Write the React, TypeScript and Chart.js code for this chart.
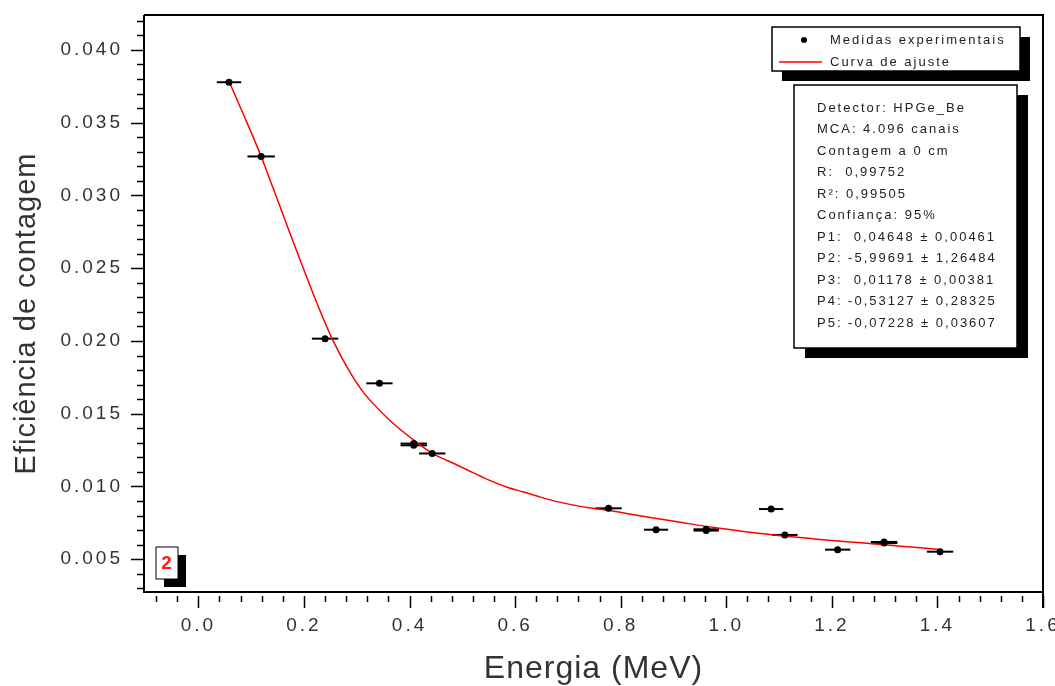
import React, { useEffect, useRef } from 'react';
import { Chart, registerables } from 'chart.js';

Chart.register(...registerables);

// ---- data ----
const energy = [0.058, 0.119, 0.240, 0.343, 0.408, 0.408, 0.443, 0.777, 0.867, 0.962, 0.962, 1.085, 1.111, 1.211, 1.299, 1.299, 1.405];
const efficiency = [0.03778, 0.03268, 0.02016, 0.01709, 0.01295, 0.01283, 0.01227, 0.00850, 0.00703, 0.00706, 0.00697, 0.00845, 0.00667, 0.00566, 0.00619, 0.00611, 0.00552];
const energyErr = [0.023, 0.026, 0.025, 0.025, 0.025, 0.025, 0.025, 0.025, 0.023, 0.024, 0.024, 0.023, 0.024, 0.024, 0.025, 0.025, 0.025];

const fitEnergy = [0.059, 0.085, 0.119, 0.139, 0.155, 0.174, 0.196, 0.218, 0.240, 0.256, 0.288, 0.313, 0.364, 0.414, 0.446, 0.490, 0.521, 0.553, 0.585, 0.616, 0.648, 0.680, 0.711, 0.743, 0.787, 0.850, 0.913, 0.977, 1.040, 1.103, 1.166, 1.229, 1.293, 1.356, 1.406];
const fitEfficiency = [0.03776, 0.03560, 0.03268, 0.03075, 0.02920, 0.02735, 0.02525, 0.02320, 0.02125, 0.01995, 0.01780, 0.01645, 0.01450, 0.01302, 0.01222, 0.01148, 0.01094, 0.01040, 0.00995, 0.00962, 0.00927, 0.00896, 0.00872, 0.00852, 0.00830, 0.00790, 0.00754, 0.00718, 0.00688, 0.00662, 0.00640, 0.00620, 0.00602, 0.00582, 0.00566];

const xMajorTicks = [0.0, 0.2, 0.4, 0.6, 0.8, 1.0, 1.2, 1.4, 1.6];
const yMajorTicks = [0.005, 0.010, 0.015, 0.020, 0.025, 0.030, 0.035, 0.040];

const seriesLabels = ['Medidas experimentais', 'Curva de ajuste'];
const xTitle = 'Energia (MeV)';
const yTitle = 'Eficiência de contagem';
const panelLabel = '2';
const statsLines = [
  'Detector: HPGe_Be',
  'MCA: 4.096 canais',
  'Contagem a 0 cm',
  'R:  0,99752',
  'R²: 0,99505',
  'Confiança: 95%',
  'P1:  0,04648 ± 0,00461',
  'P2: -5,99691 ± 1,26484',
  'P3:  0,01178 ± 0,00381',
  'P4: -0,53127 ± 0,28325',
  'P5: -0,07228 ± 0,03607',
];

const X_MIN = -0.103;
const X_MAX = 1.6;
const Y_MIN = 0.00275;
const Y_MAX = 0.0424;

const TEXT = '#333333';
const BOX_TEXT = '#222222';
const FONT = 'Arial, "Liberation Sans", sans-serif';

function boxWithShadow(ctx: CanvasRenderingContext2D, x: number, y: number, w: number, h: number, dx: number, dy: number, lw: number) {
  ctx.fillStyle = '#000';
  ctx.fillRect(x + dx, y + dy, w, h);
  ctx.fillStyle = '#fff';
  ctx.fillRect(x, y, w, h);
  ctx.strokeStyle = '#000';
  ctx.lineWidth = lw;
  ctx.strokeRect(x, y, w, h);
}

function patchScale(scale: any, labelSpacing: string, titleSpacing: string, titleDx: number, titleDy: number) {
  if (!scale || scale.__patched) return;
  scale.__patched = true;
  const origLabels = scale.drawLabels.bind(scale);
  scale.drawLabels = (area: any) => {
    const c = scale.ctx;
    c.save();
    c.letterSpacing = labelSpacing;
    origLabels(area);
    c.restore();
  };
  const origTitle = scale.drawTitle.bind(scale);
  scale.drawTitle = () => {
    const c = scale.ctx;
    c.save();
    c.letterSpacing = titleSpacing;
    c.translate(titleDx, titleDy);
    origTitle();
    c.restore();
  };
}

const decorPlugin = {
  id: 'decor',
  beforeDraw(chart: any) {
    const ctx = chart.ctx as CanvasRenderingContext2D;
    ctx.save();
    ctx.fillStyle = '#fff';
    ctx.fillRect(0, 0, chart.width, chart.height);
    ctx.restore();
    patchScale(chart.scales.x, '3px', '1px', 0, 0);
    patchScale(chart.scales.y, '3px', '1px', 0, 10);
  },
  beforeDatasetsDraw(chart: any) {
    const ctx = chart.ctx as CanvasRenderingContext2D;
    const { x, y } = chart.scales;
    const a = chart.chartArea;
    ctx.save();
    ctx.beginPath();
    ctx.rect(a.left, a.top, a.right - a.left, a.bottom - a.top);
    ctx.clip();
    ctx.strokeStyle = '#000';
    ctx.lineWidth = 2;
    energy.forEach((e, i) => {
      const py = y.getPixelForValue(efficiency[i]);
      ctx.beginPath();
      ctx.moveTo(x.getPixelForValue(e - energyErr[i]), py);
      ctx.lineTo(x.getPixelForValue(e + energyErr[i]), py);
      ctx.stroke();
    });
    ctx.restore();
  },
  afterDraw(chart: any) {
    const ctx = chart.ctx as CanvasRenderingContext2D;
    const { x, y } = chart.scales;
    const a = chart.chartArea;
    ctx.save();

    // tick marks (major + minor), outward
    ctx.strokeStyle = '#000';
    ctx.lineWidth = 1.5;
    for (let k = 3; k <= 42; k++) {
      const v = k / 1000;
      const major = k % 5 === 0;
      const py = Math.round(y.getPixelForValue(v)) + 0.5;
      ctx.beginPath();
      ctx.moveTo(a.left - (major ? 13 : 7), py);
      ctx.lineTo(a.left, py);
      ctx.stroke();
    }
    for (let k = -2; k <= 40; k++) {
      const v = k * 0.04;
      const major = k % 5 === 0;
      const px = Math.round(x.getPixelForValue(v)) + 0.5;
      ctx.beginPath();
      ctx.moveTo(px, a.bottom + 4);
      ctx.lineTo(px, a.bottom + (major ? 16 : 10));
      ctx.stroke();
    }

    // frame
    ctx.lineWidth = 2;
    ctx.beginPath();
    ctx.moveTo(a.left, a.top);
    ctx.lineTo(a.right, a.top);
    ctx.lineTo(a.right, a.bottom + 16);
    ctx.moveTo(a.right, a.bottom);
    ctx.lineTo(a.left, a.bottom);
    ctx.lineTo(a.left, a.top);
    ctx.stroke();

    // legend
    (ctx as any).letterSpacing = '2px';
    boxWithShadow(ctx, 772, 27, 248, 44, 10, 10, 1.5);
    ctx.font = `13px ${FONT}`;
    ctx.textBaseline = 'middle';
    ctx.textAlign = 'left';
    const ds0 = chart.data.datasets[0];
    const ds1 = chart.data.datasets[1];
    ctx.fillStyle = '#000';
    ctx.beginPath();
    ctx.arc(804, 40, 3, 0, Math.PI * 2);
    ctx.fill();
    ctx.fillStyle = BOX_TEXT;
    ctx.fillText(ds0.label, 830, 40);
    ctx.strokeStyle = ds1.borderColor;
    ctx.lineWidth = 1.5;
    ctx.beginPath();
    ctx.moveTo(779, 62);
    ctx.lineTo(822, 62);
    ctx.stroke();
    ctx.fillText(ds1.label, 830, 62);

    // statistics box
    boxWithShadow(ctx, 794, 85, 223, 263, 11, 10, 1.5);
    ctx.fillStyle = BOX_TEXT;
    ctx.font = `13px ${FONT}`;
    statsLines.forEach((line, i) => {
      ctx.fillText(line, 817, 108 + i * 21.5);
    });

    // panel label
    (ctx as any).letterSpacing = '0px';
    boxWithShadow(ctx, 156, 547, 22, 32, 8, 8, 1);
    ctx.fillStyle = '#ff1a1a';
    ctx.font = `bold 19px ${FONT}`;
    ctx.textAlign = 'center';
    ctx.fillText(panelLabel, 166.5, 564);

    ctx.restore();
  },
};

export default function App() {
  const canvasRef = useRef<HTMLCanvasElement | null>(null);

  useEffect(() => {
    document.body.style.margin = '0';
    const canvas = canvasRef.current;
    if (!canvas) return;
    const chart = new Chart(canvas, {
      type: 'scatter',
      data: {
        datasets: [
          {
            label: seriesLabels[0],
            data: energy.map((e, i) => ({ x: e, y: efficiency[i] })),
            backgroundColor: '#000',
            borderColor: '#000',
            pointRadius: 3.5,
            pointBorderWidth: 0,
            showLine: false,
          },
          {
            label: seriesLabels[1],
            data: fitEnergy.map((e, i) => ({ x: e, y: fitEfficiency[i] })),
            borderColor: '#ff0000',
            backgroundColor: '#ff0000',
            borderWidth: 1.5,
            pointRadius: 0,
            showLine: true,
            cubicInterpolationMode: 'monotone',
          } as any,
        ],
      },
      options: {
        responsive: false,
        animation: false,
        devicePixelRatio: 1,
        layout: { autoPadding: false, padding: { left: 0, right: 12, top: 15, bottom: 0 } } as any,
        plugins: {
          legend: { display: false },
          tooltip: { enabled: false },
          title: { display: false },
        },
        scales: {
          x: {
            type: 'linear',
            position: 'bottom',
            min: X_MIN,
            max: X_MAX,
            grid: { display: false, drawTicks: false },
            border: { display: false },
            afterBuildTicks: (s: any) => {
              s.ticks = xMajorTicks.map((v) => ({ value: v }));
            },
            afterFit: (s: any) => {
              s.height = 94;
              s.paddingLeft = 0;
              s.paddingRight = 0;
            },
            ticks: {
              autoSkip: false,
              maxRotation: 0,
              minRotation: 0,
              padding: 22,
              color: TEXT,
              font: { family: FONT, size: 19 },
              callback: (v: any) => Number(v).toFixed(1),
            },
            title: {
              display: true,
              text: xTitle,
              color: TEXT,
              font: { family: FONT, size: 32, lineHeight: 1 },
              padding: { top: 0, bottom: 1 },
            },
          },
          y: {
            type: 'linear',
            position: 'left',
            min: Y_MIN,
            max: Y_MAX,
            grid: { display: false, drawTicks: false },
            border: { display: false },
            afterBuildTicks: (s: any) => {
              s.ticks = yMajorTicks.map((v) => ({ value: v }));
            },
            afterFit: (s: any) => {
              s.width = 144;
              s.paddingTop = 0;
              s.paddingBottom = 0;
            },
            ticks: {
              autoSkip: false,
              padding: 21,
              color: TEXT,
              font: { family: FONT, size: 19 },
              callback: (v: any) => Number(v).toFixed(3),
            },
            title: {
              display: true,
              text: yTitle,
              color: TEXT,
              font: { family: FONT, size: 29, lineHeight: 1 },
              padding: { top: 12, bottom: 0 },
            },
          },
        },
      } as any,
      plugins: [decorPlugin as any],
    });
    return () => chart.destroy();
  }, []);

  return (
    <div style={{ width: 1055, height: 686, position: 'relative' }}>
      <canvas ref={canvasRef} width={1055} height={686} style={{ display: 'block' }} />
    </div>
  );
}
